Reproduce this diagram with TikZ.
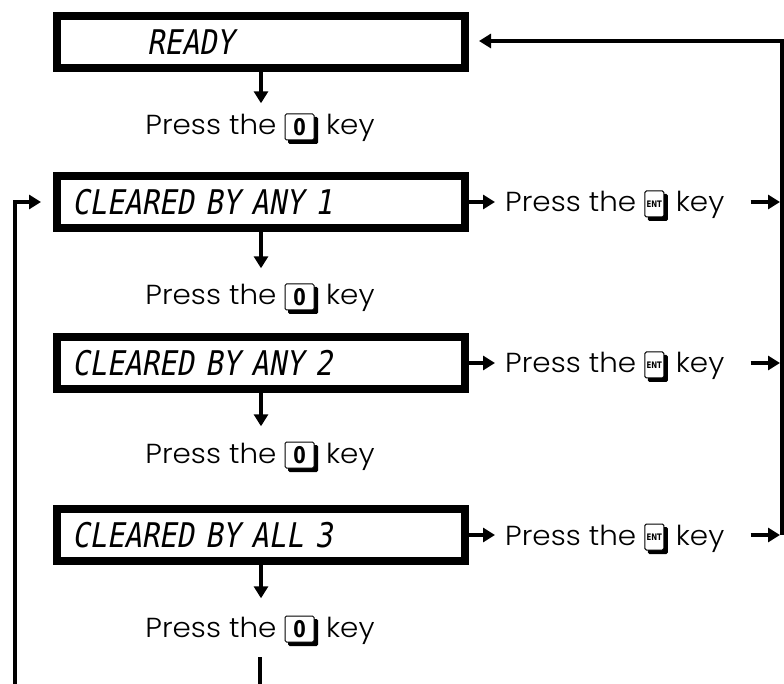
\documentclass[tikz,border=0pt]{standalone}
\usepackage{fontspec}
\usetikzlibrary{arrows.meta}
\setmainfont{Poppins Light}[FakeStretch=1.07]
\newfontfamily\lcd{DejaVu Sans Mono}[FakeStretch=0.85,FakeSlant=0.18]
\newfontfamily\keyfont{DejaVu Sans}[FakeStretch=0.78]
\newcommand\keycap[5]{% width, height, baseline, font, content
  \begin{tikzpicture}[x=1pt,y=1pt,baseline=#3pt,line width=1pt]
    \fill[black,rounded corners=1.5pt] (3,-4) rectangle (#1+4,#2-3);
    \draw[black,fill=white,rounded corners=1.5pt] (0,0) rectangle (#1,#2);
    \node[inner sep=0pt,outer sep=0pt,anchor=center,text=black,font=#4] at (#1/2,#2/2) {#5};
  \end{tikzpicture}}
\newcommand\keyzero{\keycap{29}{26}{5}{\keyfont\bfseries\fontsize{23}{23}\selectfont}{0}}
\newcommand\keyent{\keycap{19}{26}{5}{\keyfont\bfseries\fontsize{9}{9}\selectfont}{ENT}}
\begin{document}
\begin{tikzpicture}[x=1pt,y=-1pt,
  lcdbox/.style={draw, line width=8pt, minimum width=408pt, minimum height=52pt,
    text width=378pt, inner xsep=15pt, inner ysep=0pt, align=left,
    font=\lcd\fontsize{34}{34}\selectfont},
  conn/.style={line width=3.6pt},
  arr/.style={conn, -{Triangle[width=14pt,length=12pt]}},
  presstxt/.style={font=\fontsize{27.5}{27.5}\selectfont, inner sep=0pt, anchor=base},
  enttxt/.style={font=\fontsize{27.5}{27.5}\selectfont, inner sep=0pt, anchor=base west}]
\useasboundingbox (0,0) rectangle (784,684);

% display boxes
\node[lcdbox] (b1) at (261,42) {\hspace*{75pt}READY};
\node[lcdbox] (b2) at (261,202) {CLEARED BY ANY 1};
\node[lcdbox] (b3) at (261,363) {CLEARED BY ANY 2};
\node[lcdbox] (b4) at (261,535) {CLEARED BY ALL 3};

% press 0 texts
\node[presstxt] (p1) at (260,135) {Press the \keyzero{} key};
\node[presstxt] (p2) at (260,305) {Press the \keyzero{} key};
\node[presstxt] (p3) at (260,463) {Press the \keyzero{} key};
\node[presstxt] (p4) at (260,637) {Press the \keyzero{} key};

% press ENT texts
\node[enttxt] (e2) at (505,212) {Press the \keyent{} key};
\node[enttxt] (e3) at (505,373) {Press the \keyent{} key};
\node[enttxt] (e4) at (505,545) {Press the \keyent{} key};

% coordinates of the loop lines
\coordinate (r2) at (782,202);
\coordinate (r3) at (782,363);
\coordinate (r4) at (782,535);
\coordinate (rt) at (782,41);
\coordinate (lb) at (15,690);
\coordinate (bb) at (260,690);

% down arrows
\draw[arr, shorten >=10pt] (b1.south) -- (b1.south |- p1.north);
\draw[arr, shorten >=15pt] (b2.south) -- (b2.south |- p2.north);
\draw[arr, shorten >=15pt] (b3.south) -- (b3.south |- p3.north);
\draw[arr, shorten >=17pt] (b4.south) -- (b4.south |- p4.north);

% box to ENT text
\draw[arr, shorten >=10pt] (b2.east) -- (b2.east -| e2.west);
\draw[arr, shorten >=10pt] (b3.east) -- (b3.east -| e3.west);
\draw[arr, shorten >=10pt] (b4.east) -- (b4.east -| e4.west);

% ENT text to right line
\draw[arr, shorten <=26pt, shorten >=2pt] (e2.east |- r2) -- (r2);
\draw[arr, shorten <=26pt, shorten >=2pt] (e3.east |- r3) -- (r3);
\draw[arr, shorten <=26pt, shorten >=2pt] (e4.east |- r4) -- (r4);

% right return line to READY
\draw[arr, shorten >=10pt] (r4) -- (rt) -- (b1.east |- rt);

% bottom loop back to first CLEARED display
\draw[conn, shorten <=11pt] (p4.south) -- (bb);
\draw[arr, shorten >=12pt] (lb) |- (b2.west);
\end{tikzpicture}
\end{document}
